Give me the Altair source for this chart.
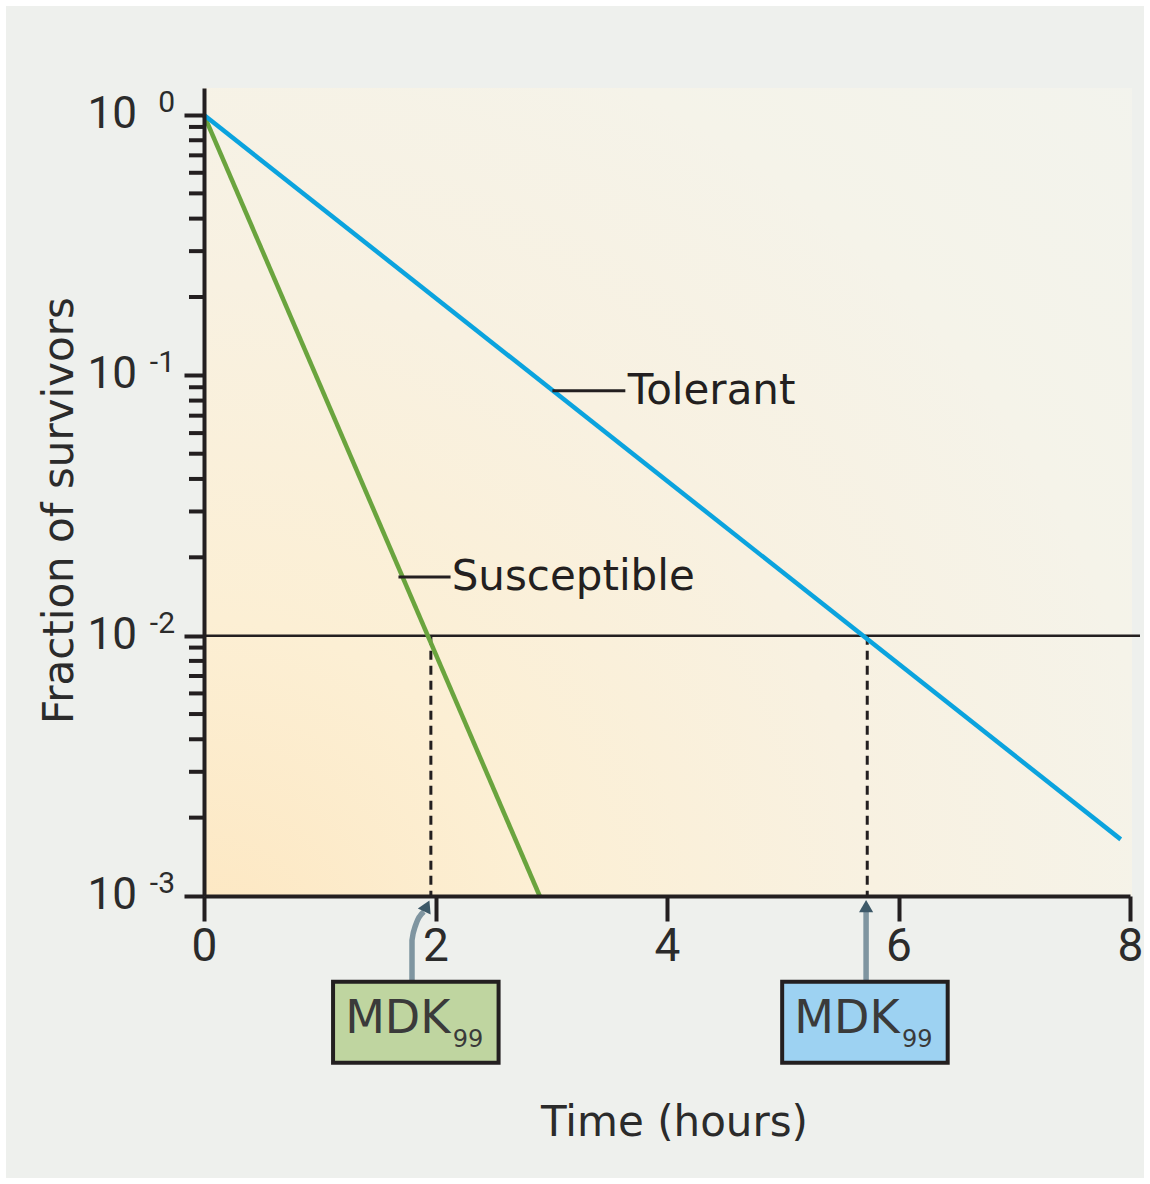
import altair as alt
import pandas as pd

# Kill curves: time in hours vs. fraction of surviving cells
curve_strain = ["Susceptible", "Susceptible", "Tolerant", "Tolerant"]
curve_hours = [0.0, 2.9, 0.0, 7.92]
curve_survivors = [1.0, 0.001, 1.0, 0.00165]

strains = ["Susceptible", "Tolerant"]
line_colors = ["#6aa43e", "#0ba3de"]
box_colors = ["#bfd5a0", "#9dd2f2"]

# Minimum duration for killing 99% of the population
mdk_hours = [1.96, 5.73]
threshold = 0.01
floor_value = 0.001

# Axis tick values and the power-of-ten labels
x_ticks = [0, 2, 4, 6, 8]
y_major = [1, 0.1, 0.01, 0.001]
y_exponent = ["0", "-1", "-2", "-3"]
y_minor = [m * d for d in (0.1, 0.01, 0.001) for m in range(2, 10)]

# Curve labels with their leader lines
label_text = ["Tolerant", "Susceptible"]
label_x = [3.66, 2.14]
label_y = [0.0873, 0.0168]
leader_start = [3.01, 1.68]
leader_end = [3.64, 2.13]

# MDK99 call-out boxes and arrows below the time axis
box_center = [1.83, 5.71]
box_half = 0.715
box_top, box_bottom, box_mid = 0.000468, 0.000229, 0.000324
arrow_strain = ["Susceptible"] * 4 + ["Tolerant"] * 2
arrow_seq = [0, 1, 2, 3, 0, 1]
arrow_x = [1.797, 1.797, 1.83, 1.90, 5.72, 5.72]
arrow_y = [0.000468, 0.000676, 0.000776, 0.000871, 0.000468, 0.000871]
head_x = [1.925, 5.72]
head_y = [0.000915, 0.000915]
head_angle = [25, 0]

W, H = 926, 808
PAD_L, PAD_T, PAD_R, PAD_B = 204, 88, 20, 288
FONT = "DejaVu Sans"
NUM_FONT = "Roboto"
INK = "#231f20"
TEXT = "#2b2b2b"

x_scale = alt.Scale(domain=[0, 8], nice=False, zero=False)
y_scale = alt.Scale(type="log", domain=[0.001, 1.27], nice=False)

x_axis = alt.Axis(
    values=x_ticks, title="Time (hours)", grid=False, zindex=1,
    tickSize=25, tickWidth=4, tickColor=INK,
    domainWidth=4, domainColor=INK,
    labelFont=NUM_FONT, labelFontSize=46, labelColor=TEXT,
    labelBaseline="alphabetic", labelPadding=39, labelFlush=False,
    titleFont=FONT, titleFontSize=42, titleFontWeight="normal", titleColor=TEXT,
    titleBaseline="alphabetic", titleY=239, titleX=470,
)
y_axis = alt.Axis(
    values=y_major, title="Fraction of survivors", grid=False, labels=False, zindex=1,
    tickSize=20, tickWidth=4, tickColor=INK,
    domainWidth=4, domainColor=INK,
    titleFont=FONT, titleFontSize=42, titleFontWeight="normal", titleColor=TEXT,
    titleBaseline="alphabetic", titleX=-132, titleY=422,
)


def X(field):
    return alt.X(f"{field}:Q", scale=x_scale, axis=x_axis)


def Y(field):
    return alt.Y(f"{field}:Q", scale=y_scale, axis=y_axis)


curves = pd.DataFrame({"strain": curve_strain, "t": curve_hours, "s": curve_survivors})
mdk = pd.DataFrame({"strain": strains, "t": mdk_hours, "top": threshold, "bottom": floor_value})
decades = pd.DataFrame({"v": y_major, "base": "10", "exp": y_exponent})
labels = pd.DataFrame({"text": label_text, "x": label_x, "y": label_y,
                       "x0": leader_start, "x1": leader_end})
boxes = pd.DataFrame({"strain": strains, "cx": box_center,
                      "x0": [c - box_half for c in box_center],
                      "x1": [c + box_half for c in box_center],
                      "y0": box_top, "y1": box_bottom, "ym": box_mid,
                      "main": "MDK", "sub": "99"})
arrows = pd.DataFrame({"strain": arrow_strain, "seq": arrow_seq, "x": arrow_x, "y": arrow_y})
heads = pd.DataFrame({"x": head_x, "y": head_y, "rot": head_angle})
one = pd.DataFrame({"k": [0]})

# Thin white frame around the whole figure
frame = alt.Chart(one).mark_rect(
    fillOpacity=0, stroke="#ffffff", strokeWidth=6
).encode(
    x=alt.value(-PAD_L + 3), x2=alt.value(W + PAD_R - 3),
    y=alt.value(-PAD_T + 3), y2=alt.value(H + PAD_B - 3),
)

# Plot-area wash: warm in the lower left, fading to pale grey
wash = alt.Chart(one).mark_rect(
    fill=alt.RadialGradient(
        gradient="radial", x1=0, y1=1, r1=0, x2=0, y2=1, r2=1.45,
        stops=[
            alt.GradientStop(offset=0.0, color="#fde7c1"),
            alt.GradientStop(offset=0.25, color="#fcefd4"),
            alt.GradientStop(offset=0.5, color="#f8f1e1"),
            alt.GradientStop(offset=0.72, color="#f5f3e9"),
            alt.GradientStop(offset=1.0, color="#f2f3ee"),
        ],
    )
).encode(x=alt.value(0), x2=alt.value(W + 2), y=alt.value(0), y2=alt.value(H))

minor = alt.Chart(pd.DataFrame({"v": y_minor})).mark_rule(
    color=INK, strokeWidth=4
).encode(y=Y("v"), x=alt.value(-15), x2=alt.value(0))

# "10" with a raised exponent beside each decade tick
decade_base = alt.Chart(decades).mark_text(
    align="right", baseline="middle", font=NUM_FONT, fontSize=44, color=TEXT
).encode(y=Y("v"), x=alt.value(-67), text="base:N")
decade_exp = alt.Chart(decades).mark_text(
    align="right", baseline="middle", font=NUM_FONT, fontSize=30, color=TEXT, dy=-12
).encode(y=Y("v"), x=alt.value(-29), text="exp:N")

threshold_line = alt.Chart(pd.DataFrame({"v": [threshold]})).mark_rule(
    color=INK, strokeWidth=2.5
).encode(y=Y("v"), x=alt.value(0), x2=alt.value(W + 10))

drops = alt.Chart(mdk).mark_rule(
    color=INK, strokeWidth=3, strokeDash=[9, 6]
).encode(x=X("t"), y=Y("top"), y2="bottom:Q")

lines = alt.Chart(curves).mark_line(strokeWidth=4.5, strokeCap="butt").encode(
    x=X("t"), y=Y("s"),
    color=alt.Color("strain:N", scale=alt.Scale(domain=strains, range=line_colors), legend=None),
)

leaders = alt.Chart(labels).mark_rule(color=INK, strokeWidth=3).encode(
    x=X("x0"), x2="x1:Q", y=Y("y")
)
label_marks = alt.Chart(labels).mark_text(
    align="left", baseline="middle", font=FONT, fontSize=42, color=INK
).encode(x=X("x"), y=Y("y"), text="text:N")

arrow_shafts = alt.Chart(arrows).mark_line(
    color="#7f95a0", strokeWidth=5.5, interpolate="monotone"
).encode(x=X("x"), y=Y("y"), detail="strain:N", order="seq:Q")
arrow_heads = alt.Chart(heads).mark_point(
    shape="triangle-up", filled=True, size=200, color="#3d5968", opacity=1
).encode(x=X("x"), y=Y("y"), angle=alt.Angle("rot:Q", scale=None))

box_marks = alt.Chart(boxes).mark_rect(stroke=INK, strokeWidth=4).encode(
    x=X("x0"), x2="x1:Q", y=Y("y0"), y2="y1:Q",
    fill=alt.Fill("strain:N", scale=alt.Scale(domain=strains, range=box_colors), legend=None),
)
box_main = alt.Chart(boxes).mark_text(
    align="center", baseline="middle", font=FONT, fontSize=46, color="#3a3a3a", dx=-18, dy=-4
).encode(x=X("cx"), y=Y("ym"), text="main:N")
box_sub = alt.Chart(boxes).mark_text(
    align="left", baseline="middle", font=FONT, fontSize=24, color="#3a3a3a", dx=37, dy=17
).encode(x=X("cx"), y=Y("ym"), text="sub:N")

chart = alt.layer(
    frame, wash, minor, decade_base, decade_exp, threshold_line, drops, lines, leaders,
    label_marks, arrow_shafts, arrow_heads, box_marks, box_main, box_sub,
).properties(
    width=W, height=H,
    background="#eef0ed",
    autosize=alt.AutoSizeParams(type="none"),
    padding={"left": PAD_L, "top": PAD_T, "right": PAD_R, "bottom": PAD_B},
).configure_view(stroke=None)

chart.save("out.html", embed_options={"renderer": "svg", "actions": False})
